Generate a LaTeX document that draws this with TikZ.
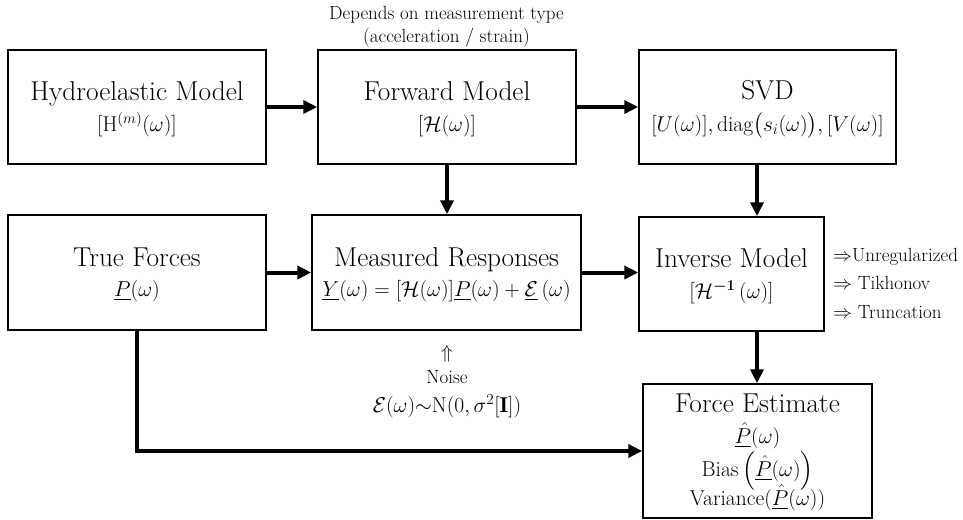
\RequirePackage{fix-cm}
\documentclass[tikz,border=0pt]{standalone}
\usepackage{amsmath,amssymb}
\usepackage{fontspec}
\usetikzlibrary{arrows.meta}
\begin{document}
\begin{tikzpicture}[x=1pt,y=-1pt,
  box/.style={draw,line width=1.5pt,inner sep=0pt},
  ttl/.style={anchor=base,inner sep=0pt,font=\fontsize{27.3}{32}\selectfont},
  sub/.style={anchor=base,inner sep=0pt,font=\fontsize{21.5}{25}\selectfont},
  note/.style={anchor=base,inner sep=0pt,font=\fontsize{19}{22}\selectfont},
  arr/.style={line width=4pt,-{Triangle[length=14pt,width=13pt]}}]
\useasboundingbox (0,0) rectangle (963,519);
% boxes
\node[box,minimum width=258pt,minimum height=114pt] (hyd) at (137,107) {};
\node[box,minimum width=258pt,minimum height=114pt] (fwd) at (447,107) {};
\node[box,minimum width=257pt,minimum height=114pt] (svd) at (767.5,107) {};
\node[box,minimum width=258pt,minimum height=115pt] (tru) at (137,272.5) {};
\node[box,minimum width=269pt,minimum height=115pt] (mea) at (446.5,272.5) {};
\node[box,minimum width=185pt,minimum height=114pt] (inv) at (731.5,274) {};
\node[box,minimum width=229pt,minimum height=134pt] (est) at (757.5,451) {};
% texts
\node[ttl] (hydT) at (137,100) {Hydroelastic Model};
\node[sub] (hydS) at (137,131) {$[\mathrm{H}^{(m)}(\omega)]$};
\node[ttl] (fwdT) at (447,100) {Forward Model};
\node[sub] (fwdS) at (447,131) {$[\mathcal{H}(\omega)]$};
\node[ttl] (svdT) at (767.5,99) {SVD};
\node[sub] (svdS) at (767.5,131) {$[U(\omega)],\mathrm{diag}\bigl(s_i(\omega)\bigr),[V(\omega)]$};
\node[ttl] (truT) at (137,266) {True Forces};
\node[sub] (truS) at (137,296) {$\underline{P}(\omega)$};
\node[ttl] (meaT) at (446.5,266) {Measured Responses};
\node[sub] (meaS) at (446.5,296) {$\underline{Y}(\omega)=[\mathcal{H}(\omega)]\underline{P}(\omega)+\underline{\mathcal{E}}\,(\omega)$};
\node[ttl] (invT) at (731.5,267) {Inverse Model};
\node[sub] (invS) at (731.5,298) {$[\mathcal{H}^{\boldsymbol{-1}}\,(\omega)]$};
\node[ttl] (estT) at (757.5,412) {Force Estimate};
\node[sub] (estA) at (757.5,443) {$\underline{\hat{P}}(\omega)$};
\node[sub] (estB) at (757.5,476) {Bias\,$\left(\underline{\hat{P}}(\omega)\right)$};
\node[sub] (estC) at (757.5,505) {Variance$(\underline{\hat{P}}(\omega))$};
\node[note] (dep1) at (446.5,20) {Depends on measurement type};
\node[note] (dep2) at (446.5,42) {(acceleration / strain)};
\node[note] (up) at (447,358) {$\Uparrow$};
\node[note] (noi) at (447,383) {Noise};
\node[sub] (noiF) at (447,412) {$\mathcal{E}(\omega){\sim}\mathrm{N}(0,\sigma^2[\mathbf{I}])$};
\node[note,anchor=base west] (r1) at (833,261) {$\Rightarrow$Unregularized};
\node[note,anchor=base west] (r2) at (833,289) {$\Rightarrow$ Tikhonov};
\node[note,anchor=base west] (r3) at (833,318) {$\Rightarrow$ Truncation};
% connectors
\draw[arr] (hyd.east) -- (fwd.west);
\draw[arr] (fwd.east) -- (svd.west);
\draw[arr] (fwd.south) -- (fwd.south |- mea.north);
\draw[arr] (svd.south -| 757,0) -- (inv.north -| 757,0);
\draw[arr] (tru.east) -- (mea.west);
\draw[arr] (mea.east) -- (inv.west |- mea.east);
\draw[arr] (inv.south -| 757,0) -- (est.north -| 757,0);
\draw[arr] (tru.south) -- (tru.south |- est.west) -- (est.west);
\end{tikzpicture}
\end{document}
